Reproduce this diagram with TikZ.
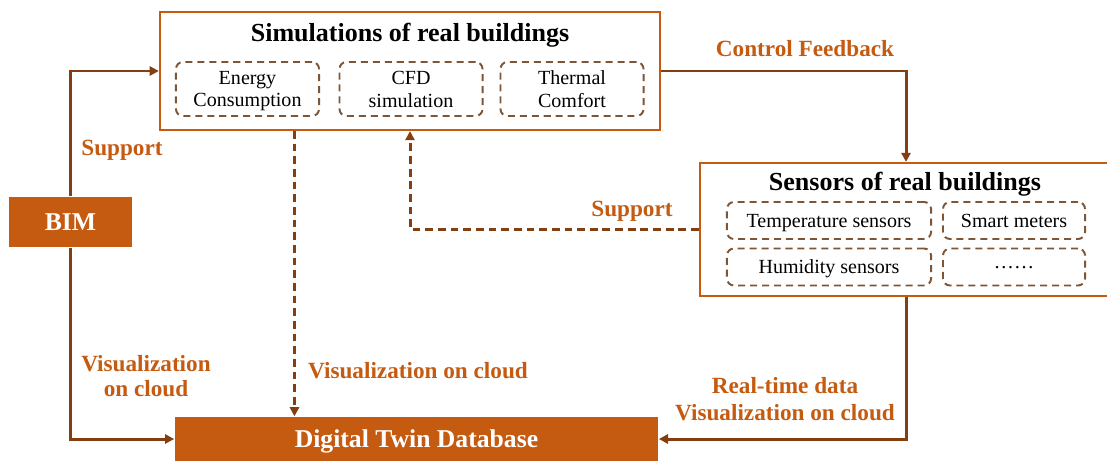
\documentclass[tikz,border=0pt]{standalone}
\usepackage{fontspec}
\setmainfont{Liberation Serif}
\usetikzlibrary{arrows.meta,calc}
\definecolor{boxorange}{RGB}{197,90,17}
\definecolor{linebrown}{RGB}{132,62,16}
\definecolor{dashbrown}{RGB}{125,85,55}
\tikzset{panel/.style={draw=boxorange, line width=0.6pt, fill=white, inner sep=0pt},
 solidbox/.style={fill=boxorange, text=white, inner sep=0pt, text depth=0pt,
  font=\bfseries\fontsize{7.3}{8}\selectfont},
 subbox/.style={draw=dashbrown, dash pattern=on 2pt off 1.4pt, rounded corners=2pt,
  line width=0.55pt, inner sep=0pt, align=center, text depth=0pt,
  font=\fontsize{5.7}{6.5}\selectfont},
 heading/.style={font=\bfseries\fontsize{7.4}{8}\selectfont},
 lab/.style={text=boxorange, align=center, font=\bfseries\fontsize{6.6}{7}\selectfont},
 link/.style={draw=linebrown, line width=0.85pt, -{Triangle[length=2.6pt,width=2.6pt]}},
 dlink/.style={link, dash pattern=on 2.2pt off 1.4pt},
 }

\begin{document}
\begin{tikzpicture}[x=0.01cm, y=-0.01cm]
        \useasboundingbox (0,0) rectangle (1107,461);
        % simulations
        \node[panel, minimum width=5cm, minimum height=1.18cm] (sim) at (410,71) {};
        \node[heading] (simtitle) at (410,35) {Simulations of real buildings};
        \foreach \x/\t[count=\i] in {247.5/{Energy\\Consumption}, 411/{CFD\\simulation}, 572/{Thermal\\Comfort}} {
            \node[subbox, minimum width=1.43cm, minimum height=0.54cm] (simsub\i) at (\x,89) {\t};
        }

        % sensors
        \node[panel, minimum width=4.12cm, minimum height=1.33cm] (sens) at (906,229.5) {};
        \node[heading] (senstitle) at (905,184) {Sensors of real buildings};
        \foreach \x/\y/\w/\t[count=\i] in {829/220.5/2.04/Temperature sensors, 1014/220.5/1.42/Smart meters,
            829/267/2.04/Humidity sensors, 1014/267/1.42/……} {
            \node[subbox, minimum width=\w cm, minimum height=0.37cm] (senssub\i) at (\x,\y) {\t};
        }

        \node[solidbox, minimum width=1.23cm, minimum height=0.5cm] (bim) at (70.5,222) {BIM};
        \node[solidbox, minimum width=4.83cm, minimum height=0.44cm] (dtd) at (416.5,439) {Digital Twin Database};

        % connectors
        \draw[link] (bim.north) |- (sim.west);
        \draw[link] (bim.south) |- (dtd.west);
        \draw[link] (sim.east) -| (sens.north);
        \draw[link] (sens.south) |- (dtd.east);
        \coordinate (simout) at ($(sim.south west)!0.27!(sim.south east)$);
        \draw[dlink] (simout) -- (simout |- dtd.north);
        \draw[dlink] (sens.west) -| (sim.south);

        % labels
        \node[lab] (supleft) at (122,150) {Support};
        \node[lab] (supmid) at (632,211) {Support};
        \node[lab] (ctrl) at (805,49) {Control Feedback};
        \node[lab] (visleft) at (146,376) {Visualization\\on cloud};
        \node[lab] (vismid) at (418,371) {Visualization on cloud};
        \node[lab, font=\bfseries\fontsize{6.6}{7.6}\selectfont] (visright) at (785,399) {Real-time data\\Visualization on cloud};
    \end{tikzpicture}
\end{document}
